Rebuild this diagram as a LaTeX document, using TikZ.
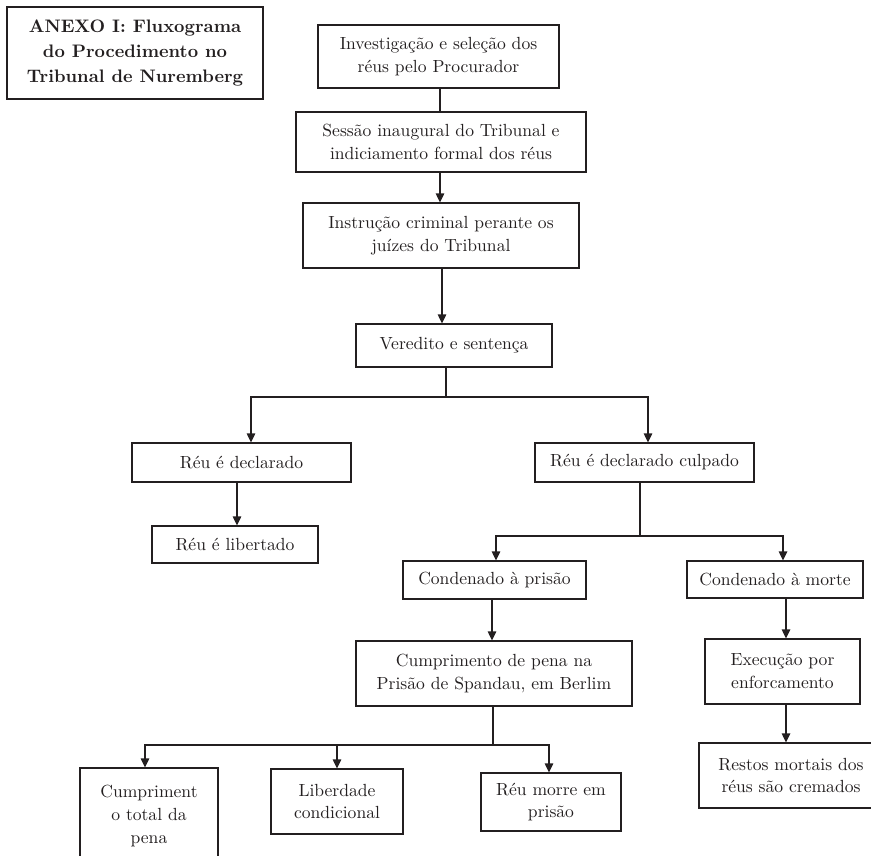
\documentclass[tikz,border=0pt]{standalone}
\usetikzlibrary{arrows.meta}
\definecolor{ink}{HTML}{231F20}
\begin{document}
\begin{tikzpicture}[x=0.2mm, y=-0.2mm,
    box/.style={draw=ink, line width=0.7pt, align=center, text=ink, inner sep=0pt, font=\fontsize{10}{13}\selectfont},
    bsize/.style 2 args={minimum width=#1*0.2mm, minimum height=#2*0.2mm},
    ln/.style={draw=ink, line width=0.7pt},
    arr/.style={ln, -{Triangle[length=1.8mm,width=1.7mm]}}]
        \useasboundingbox (0,0) rectangle (871,855);
        \clip (0,0) rectangle (871,855);

        \node[box, bsize={256}{92}, font=\bfseries\fontsize{10.3}{14.2}\selectfont] (title) at(135, 53) {ANEXO I: Fluxograma\\do Procedimento no\\Tribunal de Nuremberg};

        \node[box, bsize={241}{63}] (inv) at(438.5, 56.5) {Investigação e seleção dos\\réus pelo Procurador};
        \node[box, bsize={290}{60}] (ses) at(441, 142) {Sessão inaugural do Tribunal e\\indiciamento formal dos réus};
        \node[box, bsize={276}{65}] (ins) at(441, 235.5) {Instrução criminal perante os\\juízes do Tribunal};
        \node[box, bsize={196}{43}] (ver) at(454, 345.5) {Veredito e sentença};

        \node[box, bsize={219}{39}] (dec) at(241.5, 462.5) {Réu é declarado};
        \node[box, bsize={166}{37}] (lib) at(235, 544.5) {Réu é libertado};
        \node[box, bsize={219}{39}] (cul) at(644.5, 462.5) {Réu é declarado culpado};

        \node[box, bsize={183}{38}] (pri) at(494.5, 580) {Condenado à prisão};
        \node[box, bsize={176}{37}] (mor) at(775, 579.5) {Condenado à morte};
        \node[box, bsize={276}{65}] (cum) at(494, 673.5) {Cumprimento de pena na\\Prisão de Spandau, em Berlim};
        \node[box, bsize={155}{65}] (exe) at(782.5, 671.5) {Execução por\\enforcamento};
        \node[box, bsize={184}{65}] (res) at(791, 775.5) {Restos mortais dos\\réus são cremados};

        \node[box, bsize={138}{96}] (tot) at(149, 816) {Cumpriment\\o total da\\pena};
        \node[box, bsize={132}{65}] (lbc) at(337, 801.5) {Liberdade\\condicional};
        \node[box, bsize={140}{58}] (mpr) at(551, 802) {Réu morre em\\prisão};

        \coordinate (xinv) at(440, 0);
        \coordinate (xins) at(442, 0);
        \coordinate (xdec) at(251, 0);
        \coordinate (xlib) at(237, 0);
        \coordinate (xcul) at(648, 0);
        \coordinate (xpri) at(496, 0);
        \coordinate (xcum) at(492, 0);
        \coordinate (xmor) at(783, 0);
        \coordinate (xexe) at(786, 0);
        \coordinate (xtot) at(145, 0);
        \coordinate (xlbc) at(337, 0);
        \coordinate (xmpr) at(549, 0);
        \coordinate (jver) at(446, 397);
        \coordinate (jcul) at(640, 536);
        \coordinate (jcum) at(493, 745);

        \draw[ln] (inv.south -| xinv) -- (ses.north -| xinv);
        \draw[arr] (ses.south -| xinv) -- (ins.north -| xinv);
        \draw[arr] (ins.south -| xins) -- (ver.north -| xins);

        \draw[ln] (ver.south -| jver) -- (jver);
        \draw[arr] (jver) -| (dec.north -| xdec);
        \draw[arr] (jver) -| (cul.north -| xcul);
        \draw[arr] (dec.south -| xlib) -- (lib.north -| xlib);

        \draw[ln] (cul.south -| jcul) -- (jcul);
        \draw[arr] (jcul) -| (pri.north -| xpri);
        \draw[arr] (jcul) -| (mor.north -| xmor);
        \draw[arr] (pri.south -| xcum) -- (cum.north -| xcum);
        \draw[arr] (mor.south -| xexe) -- (exe.north -| xexe);
        \draw[arr] (exe.south -| xexe) -- (res.north -| xexe);

        \draw[ln] (cum.south -| jcum) -- (jcum);
        \draw[arr] (jcum) -| (tot.north -| xtot);
        \draw[arr] (jcum) -| (lbc.north -| xlbc);
        \draw[arr] (jcum) -| (mpr.north -| xmpr);
    \end{tikzpicture}
\end{document}
